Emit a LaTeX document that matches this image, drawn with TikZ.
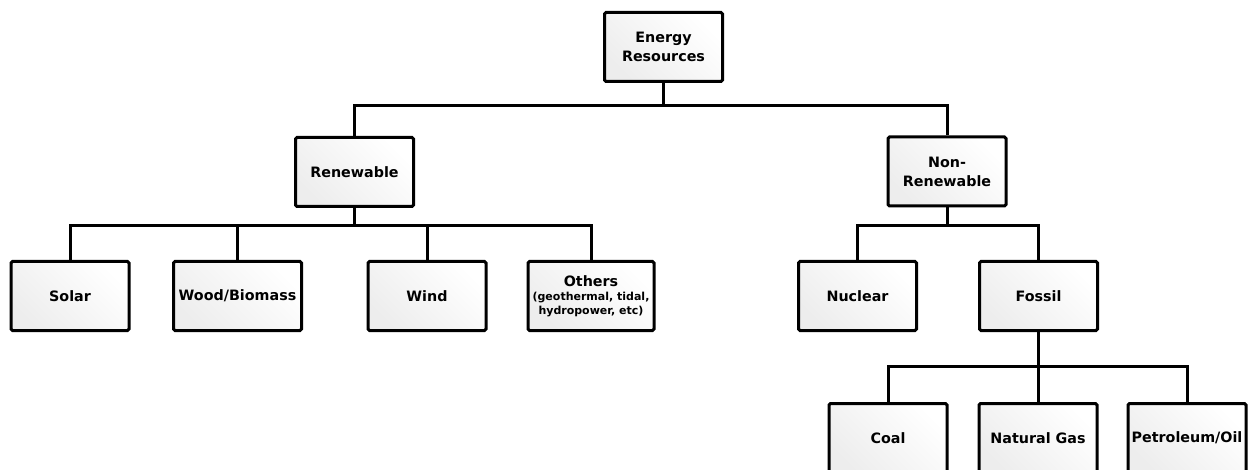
\documentclass[tikz,border=0pt]{standalone}
\usepackage{fontspec}
\setmainfont{DejaVu Sans}
\newcommand{\subnote}{\fontsize{11}{14}\selectfont}
\begin{document}
\begin{tikzpicture}[x=1pt,y=-1pt,
  box/.style={draw=black, line width=3pt, rounded corners=1.5pt,
    top color=white, bottom color=black!7, shading angle=-45,
    minimum width=118pt, minimum height=69pt, inner sep=0pt,
    align=center, font=\fontsize{14.3}{19}\selectfont\bfseries},
  link/.style={line width=3pt, line join=miter}]
\clip (0,0) rectangle (1250,470);
\fill[white] (0,0) rectangle (1250,470);

% tree of energy resources
\node[box] (er) at (663.5,47) {Energy\\Resources};
\node[box] (ren) at (354.5,172) {Renewable};
\node[box] (non) at (947,171.5) {Non-\\Renewable};

\node[box] (solar) at (70,296) {Solar};
\node[box, minimum width=128pt] (wood) at (237.5,296) {Wood/Biomass};
\node[box] (wind) at (427,296) {Wind};
\node[box, minimum width=126pt, font=\subnote\bfseries] (others) at (591,296)
  {{\fontsize{14.3}{14}\selectfont Others}\\(geothermal, tidal,\\hydropower, etc)};
\node[box] (nuclear) at (857.5,296) {Nuclear};
\node[box] (fossil) at (1038.5,296) {Fossil};

\node[box] (coal) at (888,438) {Coal};
\node[box] (gas) at (1038,438) {Natural Gas};
\node[box] (pet) at (1187,438) {Petroleum/Oil};

% bus points of the connectors
\coordinate (b1) at (663.5,106);
\coordinate (b2) at (354.5,226);
\coordinate (b3) at (947,226);
\coordinate (b4) at (1038.5,366);

\draw[link] (er) -- (b1);
\draw[link] (ren.north) |- (b1) -| (non.north);

\draw[link] (ren) -- (b2);
\draw[link] (solar.north) |- (b2) -| (others.north);
\draw[link] (wood.north) |- (b2);
\draw[link] (wind.north) |- (b2);

\draw[link] (non) -- (b3);
\draw[link] (nuclear.north) |- (b3) -| (fossil.north);

\draw[link] (fossil) -- (b4);
\draw[link] (coal.north) |- (b4) -| (pet.north);
\draw[link] (gas.north) |- (b4);
\end{tikzpicture}
\end{document}
